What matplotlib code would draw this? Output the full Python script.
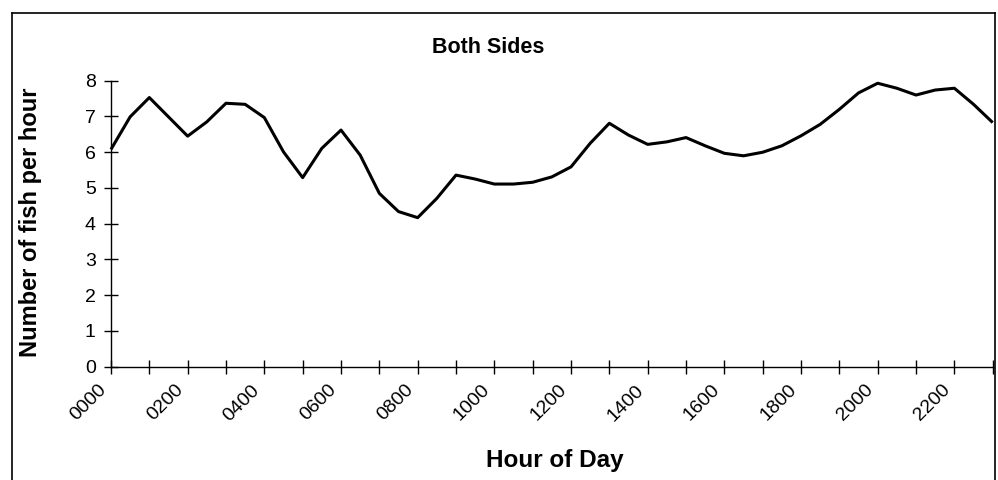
import numpy as np
import matplotlib.pyplot as plt
from matplotlib.lines import Line2D
from matplotlib.transforms import ScaledTranslation

plt.rcParams['font.family'] = ['Liberation Sans', 'DejaVu Sans']

# half-hourly readings, 0000 .. 2300
hours = np.arange(0, 23.01, 0.5)
fish_per_hour = [6.08, 6.99, 7.53, 6.99, 6.45, 6.85, 7.37, 7.34, 6.97, 6.01,
                 5.29, 6.11, 6.62, 5.92, 4.85, 4.34, 4.17, 4.71, 5.36, 5.25,
                 5.11, 5.11, 5.16, 5.31, 5.59, 6.25, 6.81, 6.48, 6.22, 6.29,
                 6.41, 6.18, 5.97, 5.90, 6.00, 6.18, 6.46, 6.78, 7.20, 7.66,
                 7.93, 7.79, 7.60, 7.74, 7.79, 7.34, 6.83]
hour_ticks = list(range(24))
hour_labels = ['%02d00' % h if h % 2 == 0 else '' for h in hour_ticks]
y_ticks = list(range(9))

fig = plt.figure(figsize=(9.98, 4.80), dpi=100)
ax = fig.add_axes([0.1112, 0.236, 0.8835, 0.5958])

ax.plot(hours, fish_per_hour, color='black', linewidth=2.2,
        solid_joinstyle='round', solid_capstyle='butt', clip_on=False)

ax.set_xlim(0, 23)
ax.set_ylim(0, 8)
ax.set_xticks(hour_ticks)
ax.set_xticklabels(hour_labels, rotation=45, ha='right', va='center',
                   rotation_mode='anchor', fontsize=14)
ax.set_yticks(y_ticks)
ax.tick_params(axis='y', labelsize=14)
ax.tick_params(direction='inout', length=10, width=1, color='black', pad=6)
ax.tick_params(axis='x', pad=10)

# pull the slanted labels back so they end under their tick
shift = ScaledTranslation(-5 / 72, 0, fig.dpi_scale_trans)
for lab in ax.get_xticklabels():
    lab.set_transform(lab.get_transform() + shift)

for side in ['top', 'right']:
    ax.spines[side].set_visible(False)
for side in ['left', 'bottom']:
    ax.spines[side].set_linewidth(1)

fig.text(0.489, 0.902, 'Both Sides', ha='center', va='center',
         fontsize=15.5, fontweight='bold')
fig.text(0.556, 0.040, 'Hour of Day', ha='center', va='center',
         fontsize=17.5, fontweight='bold')
fig.text(0.031, 0.5375, 'Number of fish per hour', ha='center', va='center',
         rotation=90, fontsize=17, fontweight='bold')

# chart area border (cut off at the bottom of the picture)
fig.add_artist(Line2D([0.012, 0.012], [-0.1, 0.973], color='black', lw=1.2))
fig.add_artist(Line2D([0.012, 0.997], [0.973, 0.973], color='black', lw=1.2))
fig.add_artist(Line2D([0.997, 0.997], [-0.1, 0.973], color='black', lw=1.2))

fig.savefig('out.png', dpi=100)
